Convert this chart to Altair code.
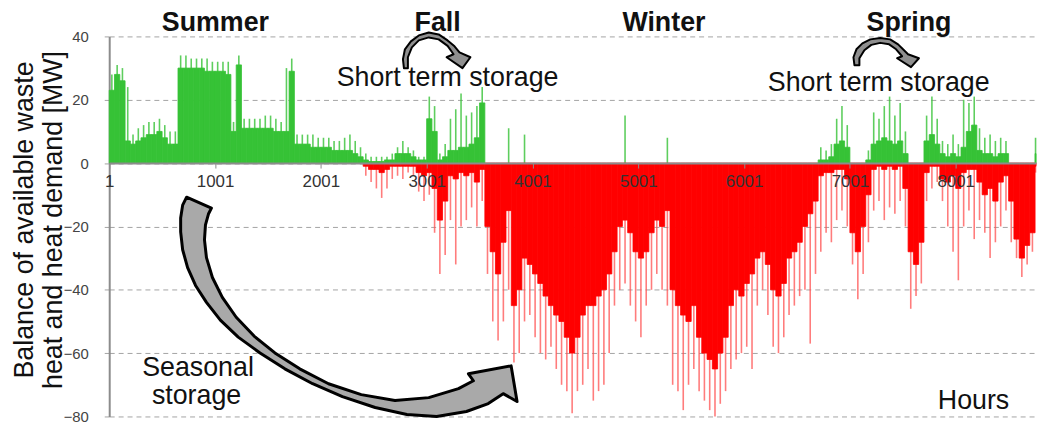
import altair as alt
import pandas as pd

# ---------------- data (50-hour bins) ----------------
BIN = 50
# solid (typical) positive balance per bin [MW]
g_core = [23, 28, 26, 7, 6, 7, 8, 9, 9, 10, 8, 6, 6, 30, 30, 30, 30, 30, 29, 29,
          29, 29, 28, 10, 31, 11, 11, 11, 11, 11, 11, 10, 10, 10, 29, 6, 6, 6, 5, 5,
          5, 5, 4, 4, 4, 4, 3, 2, 1, 0.5, 0.5, 0.5, 1, 1, 3, 3, 3, 2, 1, 1,
          14, 10, 1, 2, 4, 4, 5, 5, 6, 8, 19, 0, 0, 0, 0, 0, 0, 0, 0, 0,
          0, 0, 0, 0, 0, 0, 0, 0, 0, 0, 0, 0, 0, 0, 0, 0, 0, 0, 0, 0,
          0, 0, 0, 0, 0, 0, 0, 0, 0, 0, 0, 0, 0, 0, 0, 0, 0, 0, 0, 0,
          0, 0, 0, 0, 0, 0, 0, 0, 0, 0, 0, 0, 0, 0, 1, 1, 2, 6, 7, 5,
          0, 0, 0, 1, 6, 7, 8, 7, 6, 7, 3, 0, 0, 0, 7, 9, 6, 3, 2, 3,
          2, 5, 10, 12, 4, 3, 3, 2, 3, 3, 0, 0, 0, 0, 0, 3]
# highest positive spike per bin [MW]
g_peak = [28, 31, 30, 24, 9, 11, 12, 13, 13, 14, 12, 10, 10, 34, 34, 33, 33, 33, 33, 32,
          32, 32, 32, 13, 34, 14, 14, 14, 14, 15, 15, 14, 13, 30, 33, 9, 9, 9, 9, 8,
          8, 8, 7, 7, 8, 9, 7, 5, 3, 2, 2, 2, 2, 3, 5, 7, 5, 4, 2, 2,
          21, 18, 3, 6, 14, 17, 22, 15, 16, 18, 24, 0, 0, 0, 0, 11, 0, 0, 9, 0,
          0, 0, 0, 0, 0, 0, 0, 0, 0, 0, 0, 0, 0, 0, 0, 0, 0, 15, 0, 0,
          0, 0, 0, 0, 0, 8, 0, 0, 0, 0, 0, 0, 0, 0, 0, 0, 0, 0, 0, 0,
          0, 0, 0, 0, 0, 0, 0, 0, 0, 0, 0, 0, 0, 0, 5, 4, 6, 14, 18, 12,
          0, 0, 0, 4, 16, 14, 18, 21, 15, 19, 10, 0, 0, 0, 15, 21, 14, 7, 6, 9,
          6, 20, 19, 21, 11, 8, 9, 7, 8, 7, 0, 0, 0, 0, 0, 8]
# solid (typical) negative balance per bin [MW]
r_core = [0, 0, 0, 0, 0, 0, 0, 0, 0, 0, 0, 0, 0, 0, 0, 0, 0, 0, 0, 0,
          0, 0, 0, 0, 0, 0, 0, 0, 0, 0, 0, 0, 0, 0, 0, 0, 0, 0, 0, 0,
          0, 0, 0, 0, 0, 0, 0, 0, -1, -2, -2, -3, -2, -1, -1, -1, -1, -1, -3, -4,
          -3, -8, -18, -12, -4, -5, -3, -4, -3, -6, -2, -20, -28, -35, -25, -15, -45, -40, -30, -32,
          -35, -38, -42, -45, -48, -50, -55, -60, -55, -48, -45, -45, -42, -40, -35, -28, -20, -18, -22, -28,
          -30, -28, -22, -18, -20, -15, -40, -45, -48, -50, -45, -55, -60, -62, -65, -60, -55, -45, -40, -42,
          -38, -35, -30, -28, -32, -40, -42, -38, -30, -28, -25, -20, -16, -12, -4, -3, -3, -2, -2, -5,
          -22, -28, -20, -10, -2, -1, -2, -1, -2, -1, -8, -28, -32, -25, -3, -1, -1, -5, -6, -4,
          -8, -3, -2, -2, -6, -10, -8, -12, -6, -4, -12, -24, -30, -26, -22, -1]
# deepest negative spike per bin [MW]
r_peak = [0, 0, 0, 0, 0, 0, 0, 0, 0, 0, 0, 0, 0, 0, 0, 0, 0, 0, 0, 0,
          0, 0, 0, 0, 0, 0, 0, 0, 0, 0, 0, 0, 0, 0, 0, 0, 0, 0, 0, 0,
          0, 0, 0, 0, 0, 0, 0, 0, -4, -6, -8, -11, -8, -5, -4, -5, -3, -4, -9, -12,
          -10, -22, -35, -29, -18, -32, -20, -18, -14, -20, -12, -35, -50, -56, -50, -40, -63, -60, -50, -48,
          -55, -60, -62, -58, -65, -70, -72, -79, -72, -70, -65, -75, -72, -70, -60, -45, -40, -38, -45, -50,
          -55, -45, -40, -35, -40, -45, -70, -72, -78, -70, -65, -72, -75, -78, -80, -76, -72, -65, -62, -60,
          -58, -65, -45, -40, -48, -58, -60, -55, -48, -45, -42, -40, -57, -35, -28, -22, -25, -18, -15, -20,
          -32, -43, -35, -25, -15, -12, -18, -14, -16, -12, -20, -46, -42, -38, -12, -8, -6, -12, -20, -28,
          -37, -20, -15, -24, -18, -22, -30, -25, -20, -15, -25, -30, -36, -32, -28, -3]

x_ticks = [1, 1001, 2001, 3001, 4001, 5001, 6001, 7001, 8001]
y_ticks = [-80, -60, -40, -20, 0, 20, 40]
HOURS_END = 8760

season_labels = ["Summer", "Fall", "Winter", "Spring"]
note_labels = ["Short term storage", "Short term storage", "Seasonal", "storage", "Hours"]
y_title = ["Balance of available waste", "heat and heat demand [MW]"]

# ---------------- table ----------------
n = len(g_core)
starts = [1 + BIN * i for i in range(n)]
df = pd.DataFrame({
    "start": starts,
    "g_core": g_core, "g_peak": g_peak,
    "r_core": r_core, "r_peak": r_peak,
})
df["end"] = (df["start"] + BIN).clip(upper=HOURS_END)
df["mid"] = ((df["start"] + df["end"]) / 2)

W, H = 934, 383
FONT = "Liberation Sans"
GREEN = "#36c236"
RED = "#ff0000"

xs = alt.Scale(domain=[1, HOURS_END], nice=False, zero=False)
ys = alt.Scale(domain=[-80, 40], nice=False)
y_zero_px = H * 40 / 120

x_axis = alt.Axis(values=x_ticks, format="d", grid=False, title=None,
                  offset=-(H - y_zero_px), domainColor="#8c8c8c", domainWidth=2,
                  tickColor="#8c8c8c", tickSize=5, labelFontSize=17,
                  labelColor="#333333", labelFont=FONT, labelPadding=6,
                  labelFlush=False, labelOverlap=False, zindex=1)
y_axis = alt.Axis(values=y_ticks, grid=True, gridDash=[5, 4], gridColor="#a3a3a3",
                  gridWidth=1, title=None, domainColor="#8c8c8c", domainWidth=2,
                  tickColor="#a3a3a3", tickSize=7, tickDash=[5, 4],
                  labelFontSize=15, labelColor="#444444", labelFont=FONT,
                  labelPadding=14)

base = alt.Chart(df)

red_spk = base.transform_filter("datum.r_peak < 0").mark_rule(
    color="#ff5050", strokeWidth=1.6, opacity=0.75).encode(
    x=alt.X("mid:Q", scale=xs, axis=x_axis),
    y=alt.Y("r_peak:Q", scale=ys, axis=y_axis),
    y2=alt.datum(0))
green_spk = base.transform_filter("datum.g_peak > 0").mark_rule(
    color=GREEN, strokeWidth=1.6, opacity=0.8).encode(
    x=alt.X("mid:Q", scale=xs, axis=x_axis),
    y=alt.Y("g_peak:Q", scale=ys, axis=y_axis),
    y2=alt.datum(0))
red_bar = base.transform_filter("datum.r_core < 0").mark_bar(
    color=RED, stroke=RED, strokeWidth=0.8).encode(
    x=alt.X("start:Q", scale=xs, axis=x_axis), x2="end:Q",
    y=alt.Y("r_core:Q", scale=ys, axis=y_axis), y2=alt.datum(0))
green_bar = base.transform_filter("datum.g_core > 0").mark_bar(
    color=GREEN, stroke=GREEN, strokeWidth=0.8).encode(
    x=alt.X("start:Q", scale=xs, axis=x_axis), x2="end:Q",
    y=alt.Y("g_core:Q", scale=ys, axis=y_axis), y2=alt.datum(0))

# ---------------- annotations (pixel positions in the plot area) ----------------
seasons = pd.DataFrame({"t": season_labels, "px": [107, 331, 559, 806], "py": [-5] * 4})
notes = pd.DataFrame({"t": note_labels, "px": [341, 775.5, 89.5, 88, 871],
                      "py": [50, 55, 342, 370, 375]})
ytitle = pd.DataFrame({"t": y_title, "px": [-77, -48], "py": [185, 185]})

season_txt = alt.Chart(seasons).mark_text(font=FONT, fontSize=27, fontWeight="bold",
                                         color="#111111", align="center",
                                         baseline="alphabetic").encode(
    x=alt.X("px:Q", scale=None, axis=None), y=alt.Y("py:Q", scale=None, axis=None), text="t:N")
note_txt = alt.Chart(notes).mark_text(font=FONT, fontSize=27, color="#111111",
                                     align="center", baseline="alphabetic").encode(
    x=alt.X("px:Q", scale=None, axis=None), y=alt.Y("py:Q", scale=None, axis=None), text="t:N")
ytitle_txt = alt.Chart(ytitle).mark_text(font=FONT, fontSize=27, color="#111111",
                                        align="center", baseline="alphabetic",
                                        angle=270).encode(
    x=alt.X("px:Q", scale=None, axis=None), y=alt.Y("py:Q", scale=None, axis=None), text="t:N")


def to_path(points, cx, cy, half):
    cmds = []
    for i, (px, py) in enumerate(points):
        cmds.append(("M" if i == 0 else "L") + f"{(px - cx) / half:.4f},{(py - cy) / half:.4f}")
    return " ".join(cmds) + " Z"


OX, OY = 110, 35  # plot origin on the page
seasonal_outline = [(188, 197), (213, 208), (210, 214), (207, 225), (206, 240), (208, 258),
                    (214, 278), (224, 298), (238, 318), (256, 337), (277, 354), (302, 370),
                    (331, 385), (364, 396), (398, 402), (432, 399), (462, 390), (477, 382),
                    (472, 375), (515, 367), (521, 403), (507, 395), (492, 405), (470, 413),
                    (440, 418), (410, 416), (378, 409), (345, 398), (315, 385), (287, 370),
                    (262, 354), (240, 338), (222, 321), (208, 303), (197, 286), (189, 268),
                    (184, 250), (182, 232), (182, 218), (184, 205)]
fall_outline = [(407, 67), (406, 58), (408, 48), (414, 40), (422, 34), (432, 31), (442, 33),
                (451, 39), (458, 45), (463, 51), (474, 56), (466, 67), (450, 56), (457, 53),
                (451, 44.5), (442, 38), (432, 36), (422, 39), (415, 46), (411, 56), (411, 67)]
spring_outline = [(861, 64), (860, 56), (863, 48), (869, 42), (877, 38), (887, 36.5), (897, 38),
                  (905, 43), (911, 49), (915, 53), (926, 57), (918, 66), (904, 57), (909, 55),
                  (903, 48), (896, 43), (887, 41.5), (878, 43.5), (871, 49), (866, 57), (866, 64)]

one = pd.DataFrame({"a": [0]})


def arrow(outline, cx, cy, half, fill, sw):
    return alt.Chart(one).mark_point(
        shape=to_path(outline, cx, cy, half), size=(2 * half) ** 2, filled=True,
        fill=fill, stroke="#000000", strokeWidth=sw, opacity=1, fillOpacity=1,
        strokeOpacity=1, strokeJoin="round").encode(
        x=alt.value(cx - OX), y=alt.value(cy - OY))


arrows = [arrow(seasonal_outline, 351.5, 307.5, 175, "#a9a9a9", 3),
          arrow(fall_outline, 440, 49, 36, "#8f8f8f", 2),
          arrow(spring_outline, 892.5, 51.25, 36, "#8f8f8f", 2)]

chart = alt.layer(red_spk, green_spk, red_bar, green_bar, *arrows,
                  season_txt, note_txt, ytitle_txt).properties(
    width=W, height=H,
    autosize=alt.AutoSizeParams(type="none"),
    padding={"left": 102, "top": 27, "right": 3, "bottom": 11},
    background="white",
).configure_view(stroke=None)

chart.save("out.html", embed_options={"renderer": "svg", "actions": False})
